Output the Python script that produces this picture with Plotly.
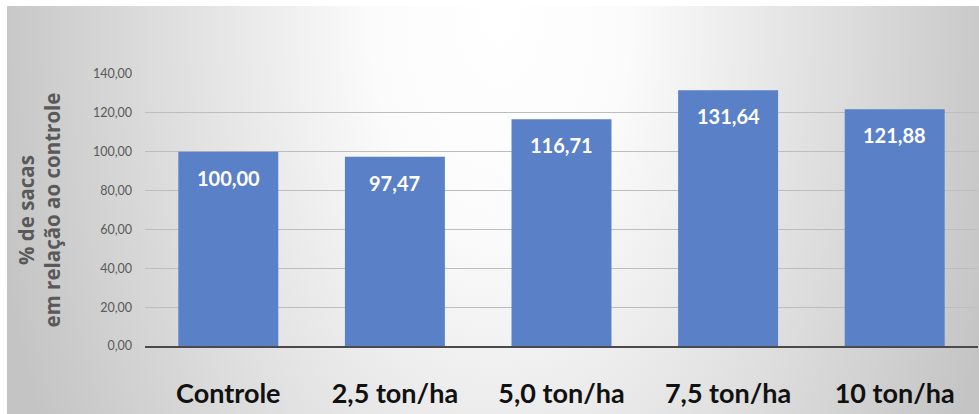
import base64
import plotly.graph_objects as go

# Yield relative to the control treatment (%)
categories = ["Controle", "2,5 ton/ha", "5,0 ton/ha", "7,5 ton/ha", "10 ton/ha"]
values = [100.00, 97.47, 116.71, 131.64, 121.88]
y_ticks = [0, 20, 40, 60, 80, 100, 120, 140]

W, H = 979, 414
L, R, T, B = 145, 1, 74, 68
plot_w = W - L - R
plot_h = H - T - B

# Soft elliptical backdrop: white at the top centre fading to grey towards the sides
svg = """<svg xmlns='http://www.w3.org/2000/svg' width='972' height='408' viewBox='0 0 972 408' preserveAspectRatio='none'>
<defs><radialGradient id='g' gradientUnits='userSpaceOnUse' cx='0' cy='0' r='1'
 gradientTransform='translate(493,0) scale(520,900)'>
<stop offset='0' stop-color='#ffffff'/>
<stop offset='0.25' stop-color='#fbfbfb'/>
<stop offset='1' stop-color='#c4c4c4'/>
</radialGradient></defs>
<rect x='0' y='0' width='972' height='408' fill='url(#g)'/>
</svg>"""
bg_src = "data:image/svg+xml;base64," + base64.b64encode(svg.encode()).decode()

fig = go.Figure()
fig.add_trace(go.Bar(
    x=categories,
    y=values,
    marker=dict(color="#5a80c8", line=dict(width=0)),
    hoverinfo="skip",
))

# Value labels inside the top of each bar
for c, v in zip(categories, values):
    fig.add_annotation(
        x=c, y=v, xref="x", yref="y",
        text=f"{v:.2f}".replace(".", ","),
        showarrow=False, yanchor="middle", yshift=-26,
        font=dict(family="Lato, 'Open Sans', sans-serif", size=20, color="white", weight="bold"),
    )

fig.add_layout_image(
    source=bg_src,
    xref="paper", yref="paper",
    x=(7 - L) / plot_w, y=(H - B - 6) / plot_h,
    sizex=(W - 7) / plot_w, sizey=(H - 6) / plot_h,
    xanchor="left", yanchor="top",
    sizing="stretch", layer="below",
)

fig.update_layout(
    width=W, height=H,
    margin=dict(l=L, r=R, t=T, b=B, autoexpand=False),
    paper_bgcolor="white",
    plot_bgcolor="rgba(0,0,0,0)",
    separators=",.",
    bargap=0.4,
    showlegend=False,
    xaxis=dict(
        showgrid=False,
        showline=True, linecolor="#4a4a4a", linewidth=2,
        ticks="", ticklabelstandoff=23,
        tickfont=dict(family="Lato, 'Open Sans', sans-serif", size=27, color="#111111", weight="bold"),
    ),
    yaxis=dict(
        range=[0, 140],
        tickvals=y_ticks,
        tickformat=".2f",
        showgrid=True, gridcolor="#bdbdbd", gridwidth=1,
        zeroline=False, showline=False,
        ticks="", ticklabelstandoff=12,
        tickfont=dict(family="Lato, 'Open Sans', sans-serif", size=12.5, color="#595959"),
        title=dict(
            text="% de sacas<br>em relação ao controle",
            font=dict(family="'Open Sans', Lato, sans-serif", size=20.5, color="#595959", weight="bold"),
            standoff=26,
        ),
    ),
)

fig.write_html("out.html")
